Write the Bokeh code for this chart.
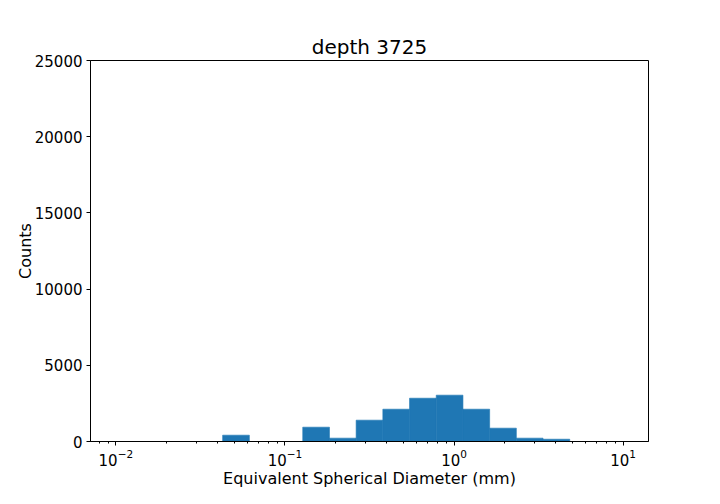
from bokeh.plotting import figure
from bokeh.models import Range1d, FixedTicker, LogTickFormatter
from bokeh.embed import file_html
from bokeh.resources import INLINE

# ---- data ----
bin_edges = [0.01, 0.014384, 0.020691, 0.029764, 0.042813, 0.061585, 0.088587,
             0.12743, 0.18330, 0.26367, 0.37927, 0.54556, 0.78476, 1.1288,
             1.6238, 2.3357, 3.3598, 4.8329, 6.9519, 10.0]
counts = [0, 0, 0, 0, 415, 0, 0, 940, 220, 1400, 2120, 2840, 3040, 2120,
          875, 220, 150, 0, 0]
y_ticks = [0, 5000, 10000, 15000, 20000, 25000]
x_major_ticks = [0.01, 0.1, 1, 10]
title_text = "depth 3725"
x_label = "Equivalent Spherical Diameter (mm)"
y_label = "Counts"

FONT = "DejaVu Sans"
BAR = "#1f77b4"

p = figure(
    x_axis_type="log",
    x_range=Range1d(10 ** -2.15, 10 ** 1.15),
    y_range=Range1d(0, 25000),
    frame_width=558, frame_height=381,
    min_border_left=90, min_border_right=64,
    min_border_top=60, min_border_bottom=55,
    output_backend="svg", toolbar_location=None,
    title=title_text,
)

left = bin_edges[:-1]
right = bin_edges[1:]
p.quad(left=left, right=right, bottom=[0] * len(counts), top=counts,
       fill_color=BAR, line_color=BAR, line_width=0.6)

p.grid.visible = False
p.outline_line_color = "black"
p.outline_line_width = 1
p.background_fill_color = "white"
p.border_fill_color = "white"

# title
p.title.align = "center"
p.title.text_font = FONT
p.title.text_font_size = "20px"
p.title.text_font_style = "normal"
p.title.text_color = "black"
p.title.standoff = 4

# x axis
minor = []
for d in x_major_ticks[:-1]:
    for k in range(2, 10):
        minor.append(d * k)
minor = [0.008, 0.009] + minor + [20]
p.xaxis.ticker = FixedTicker(ticks=x_major_ticks, minor_ticks=minor)
p.xaxis.formatter = LogTickFormatter()
p.xaxis.axis_label = x_label

# y axis
p.yaxis.ticker = FixedTicker(ticks=y_ticks)
p.yaxis.axis_label = y_label
p.yaxis.minor_tick_line_color = None

for ax in (p.xaxis, p.yaxis):
    ax.axis_line_color = "black"
    ax.major_tick_line_color = "black"
    ax.major_tick_in = 0
    ax.major_tick_out = 4
    ax.minor_tick_in = 0
    ax.minor_tick_out = 2
    ax.major_label_text_font = FONT
    ax.major_label_text_font_size = "15px"
    ax.major_label_text_color = "black"
    ax.axis_label_text_font = FONT
    ax.axis_label_text_font_size = "16px"
    ax.axis_label_text_font_style = "normal"
    ax.axis_label_text_color = "black"

p.xaxis.minor_tick_line_color = "black"
p.xaxis.major_label_standoff = 3
p.xaxis.axis_label_standoff = 0
p.yaxis.major_label_standoff = 4
p.yaxis.axis_label_standoff = -3

open("out.html", "w").write(file_html(p, INLINE))
